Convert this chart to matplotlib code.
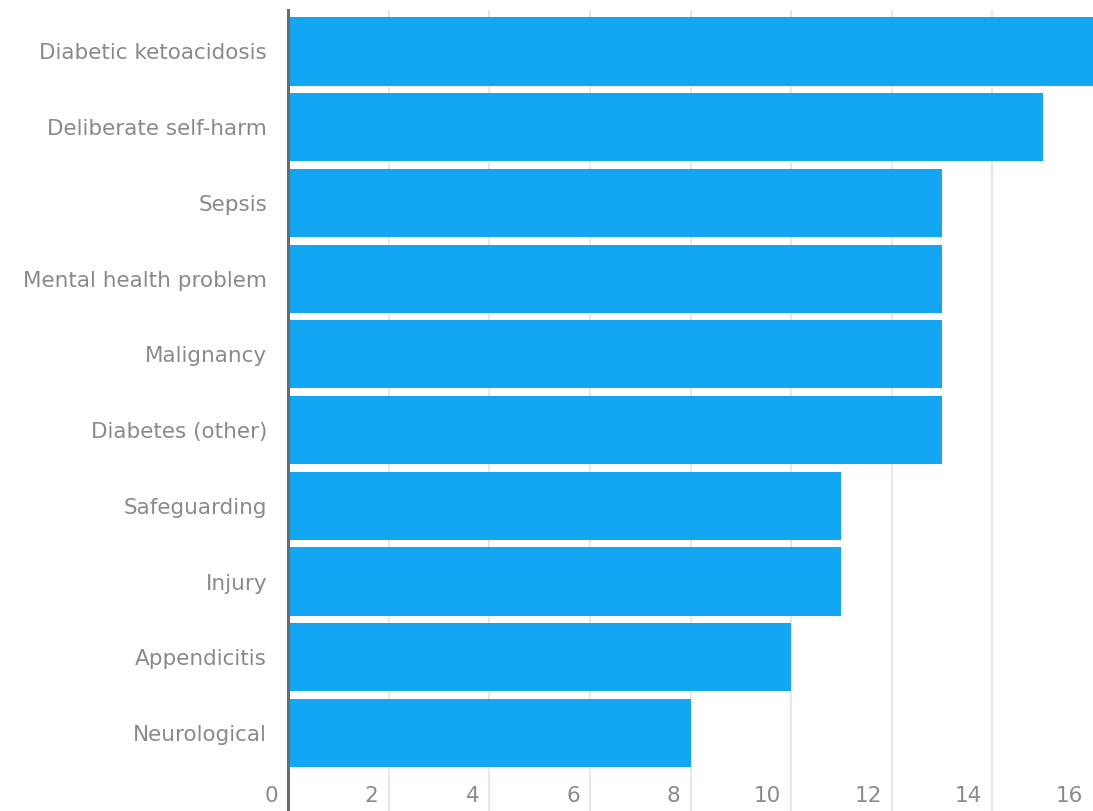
import matplotlib.pyplot as plt
from matplotlib.transforms import ScaledTranslation, blended_transform_factory

plt.rcParams['font.family'] = ['DejaVu Sans']

categories = ['Diabetic ketoacidosis', 'Deliberate self-harm', 'Sepsis',
              'Mental health problem', 'Malignancy', 'Diabetes (other)',
              'Safeguarding', 'Injury', 'Appendicitis', 'Neurological']
values = [16, 15, 13, 13, 13, 13, 11, 11, 10, 8]
xticks = [0, 2, 4, 6, 8, 10, 12, 14, 16]

bar_color = '#12a6f3'
text_color = '#8a8a8a'
fsize = 15.5

fig = plt.figure(figsize=(10.93, 8.11), dpi=100)
ax = fig.add_axes([288 / 1093, 0, 1 - 288 / 1093, 1 - 10 / 811])

pos = list(range(len(categories)))
ax.barh(pos, values, height=0.9, color=bar_color, zorder=2)

ax.set_xlim(0, 15.93)
ax.set_ylim(10.03, -0.548)
ax.set_yticks(pos)
ax.set_yticklabels(categories, fontsize=fsize, color=text_color)
ax.set_xticks(xticks)
ax.set_xticklabels([])
ax.tick_params(axis='x', length=0)
ax.tick_params(axis='y', length=0, pad=15)

# x labels sit inside the plot, right-aligned just left of each gridline
trans = blended_transform_factory(ax.transData, ax.transAxes) + \
    ScaledTranslation(-10 / 100, 5 / 100, fig.dpi_scale_trans)
for t in xticks:
    ax.text(t, 0, str(t), transform=trans, ha='right', va='bottom',
            fontsize=fsize, color=text_color, clip_on=False)

ax.grid(axis='x', color='#e3e3e3', linewidth=1.2, zorder=0)
ax.xaxis.get_gridlines()[-1].set_visible(False)  # 16 falls just off the edge
ax.set_axisbelow(True)
for side in ['top', 'right', 'bottom']:
    ax.spines[side].set_visible(False)
ax.spines['left'].set_color('#6b6b6b')
ax.spines['left'].set_linewidth(2.2)
ax.spines['left'].set_zorder(3)

fig.savefig('out.png', dpi=100)
